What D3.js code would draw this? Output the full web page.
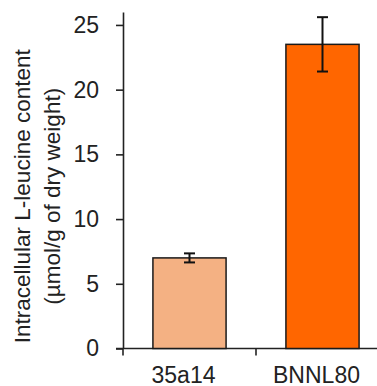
<!DOCTYPE html>
<html>
<head>
<meta charset="utf-8">
<script src="https://cdn.jsdelivr.net/npm/d3@7"></script>
<style>
  body { margin: 0; background: #fff; }
  text { font-family: "Liberation Sans", Arial, sans-serif; fill: #222; }
</style>
</head>
<body>
<div class="plot"></div>
<script>
// data
const strains = ["35a14", "BNNL80"];
const leucine = [7.0, 23.5];
const errs = [0.35, 2.1];
const barColors = ["#F4B183", "#FF6600"];
const yTicks = [0, 5, 10, 15, 20, 25];

const margin = {top: 12, right: -12, bottom: 37.5, left: 123};
const W = 377, H = 386;
const w = W - margin.left - margin.right;
const h = H - margin.top - margin.bottom;

const svg = d3.select(".plot")
    .append("svg")
        .attr("width", W)
        .attr("height", H)
    .append("g")
        .attr("transform", "translate(" + margin.left + ", " + margin.top + ")");

const x = d3.scaleBand()
    .domain(strains)
    .range([0, w])
    .paddingInner(0.45)
    .paddingOuter(0.225);

// band boundaries for the x ticks (between categories)
const xEdge = d3.scaleLinear().domain([0, strains.length]).range([0, w]);

const y = d3.scaleLinear()
    .domain([0, 26])
    .range([h, 0]);

// y axis
const yAxis = svg.append("g")
    .call(d3.axisLeft(y).tickValues(yTicks).tickSize(7).tickPadding(17).tickSizeOuter(0));
yAxis.selectAll("path, line").attr("stroke", "#222").attr("stroke-width", 1.6);
yAxis.selectAll("text").style("font-size", "23px").attr("fill", "#222");

// x axis line with ticks between bars
svg.append("line")
    .attr("x1", -7).attr("x2", w)
    .attr("y1", h).attr("y2", h)
    .attr("stroke", "#222").attr("stroke-width", 1.6);

svg.selectAll(".xtick")
    .data(d3.range(strains.length + 1))
    .enter()
    .append("line")
        .attr("class", "xtick")
        .attr("x1", d => xEdge(d)).attr("x2", d => xEdge(d))
        .attr("y1", h).attr("y2", h + 7)
        .attr("stroke", "#222").attr("stroke-width", 1.6);

// bars
svg.selectAll(".bar")
    .data(strains)
    .enter()
    .append("rect")
        .attr("class", "bar")
        .attr("x", d => x(d))
        .attr("y", (d, i) => y(leucine[i]))
        .attr("width", x.bandwidth())
        .attr("height", (d, i) => h - y(leucine[i]))
        .attr("fill", (d, i) => barColors[i])
        .attr("stroke", "#1a1a1a")
        .attr("stroke-width", 1.5);

// error bars
const eb = svg.selectAll(".err")
    .data(strains)
    .enter()
    .append("g")
        .attr("class", "err")
        .attr("transform", d => "translate(" + (x(d) + x.bandwidth() / 2) + ",0)");

eb.append("line")
    .attr("y1", (d, i) => y(leucine[i] - errs[i]))
    .attr("y2", (d, i) => y(leucine[i] + errs[i]))
    .attr("stroke", "#111").attr("stroke-width", 2);
eb.append("line")
    .attr("x1", -5.5).attr("x2", 5.5)
    .attr("y1", (d, i) => y(leucine[i] + errs[i]))
    .attr("y2", (d, i) => y(leucine[i] + errs[i]))
    .attr("stroke", "#111").attr("stroke-width", 2);
eb.append("line")
    .attr("x1", -5.5).attr("x2", 5.5)
    .attr("y1", (d, i) => y(leucine[i] - errs[i]))
    .attr("y2", (d, i) => y(leucine[i] - errs[i]))
    .attr("stroke", "#111").attr("stroke-width", 2);

// category labels, kept just inside the bottom edge
svg.selectAll(".xlab")
    .data(strains)
    .enter()
    .append("text")
        .attr("class", "xlab")
        .attr("x", d => x(d) + x.bandwidth() / 2 - 6)
        .attr("y", h + 34)
        .attr("text-anchor", "middle")
        .style("font-size", "23px")
        .text(d => d);

// y title, two lines
const yTitle = svg.append("text")
    .attr("transform", "translate(" + (-margin.left) + "," + (h / 2 + 16) + ") rotate(-90)")
    .attr("text-anchor", "middle")
    .style("font-size", "22.5px");
yTitle.append("tspan").attr("x", 0).attr("y", 30).text("Intracellular L-leucine content");
yTitle.append("tspan").attr("x", 0).attr("y", 60).text("(µmol/g of dry weight)");
</script>
</body>
</html>
